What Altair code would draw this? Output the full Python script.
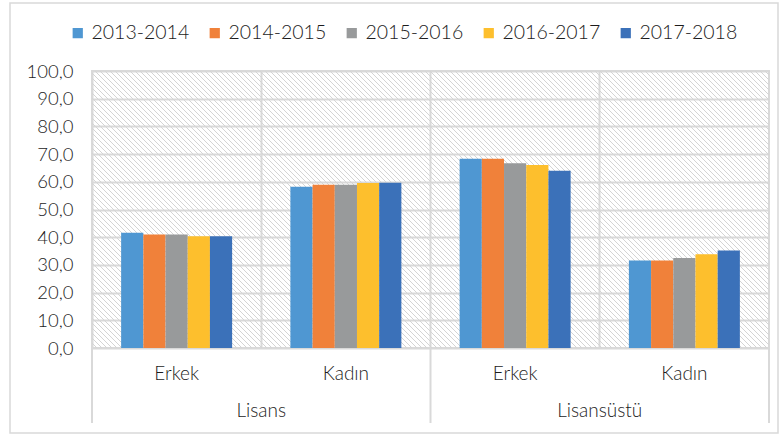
import altair as alt
import pandas as pd

# ---- data -------------------------------------------------------------
groups = ["Lisans", "Lisansüstü"]
sexes = ["Erkek", "Kadın"]
years = ["2013-2014", "2014-2015", "2015-2016", "2016-2017", "2017-2018"]
lisans_erkek = [41.6, 41.0, 41.0, 40.3, 40.3]
lisans_kadin = [58.2, 58.9, 58.9, 59.6, 59.7]
lisansustu_erkek = [68.3, 68.3, 66.7, 66.1, 64.0]
lisansustu_kadin = [31.6, 31.6, 32.5, 33.8, 35.2]
y_ticks = [0, 10, 20, 30, 40, 50, 60, 70, 80, 90, 100]
colors = ["#4f97d2", "#f0813a", "#989a9b", "#fdbf2d", "#3b71b9"]

series = {
    ("Lisans", "Erkek"): lisans_erkek,
    ("Lisans", "Kadın"): lisans_kadin,
    ("Lisansüstü", "Erkek"): lisansustu_erkek,
    ("Lisansüstü", "Kadın"): lisansustu_kadin,
}
cats = [f"{g}|{s}" for g in groups for s in sexes]
rows = []
for (g, s), vals in series.items():
    for yr, v in zip(years, vals):
        rows.append({"cat": f"{g}|{s}", "group": g, "sex": s, "year": yr, "value": v})
df = pd.DataFrame(rows)
cat_df = pd.DataFrame({"cat": cats, "sex": [c.split("|")[1] for c in cats]})
grp_df = pd.DataFrame({"cat": [f"{g}|Erkek" for g in groups], "label": groups})
sep_start = pd.DataFrame({"cat": [f"{g}|Erkek" for g in groups]})
sep_end = pd.DataFrame({"cat": [cats[-1]]})

# ---- layout -----------------------------------------------------------
W, H = 677, 277
BAND = W / 4
BARS = 111
FONT = "Lato"
WEIGHT = 300
TXT = "#1c1c1c"
GRID = "#d9d9d9"

# decorative hatch of the plot background
step = 5
hatch_df = pd.DataFrame({"x0": list(range(-H, W + step, step))})
hatch_df["x1"] = hatch_df["x0"] + H

xscale = alt.Scale(domain=cats, paddingInner=0, paddingOuter=0)

hatch = alt.Chart(hatch_df).mark_rule(
    color="#d4d4d4", strokeWidth=1, clip=True
).encode(
    x=alt.X("x0:Q", scale=alt.Scale(domain=[0, W], nice=False, zero=False), axis=None),
    x2="x1:Q",
    y=alt.value(0),
    y2=alt.value(H),
)

bars = alt.Chart(df).mark_bar().encode(
    x=alt.X(
        "cat:N", sort=cats, scale=xscale,
        axis=alt.Axis(labels=False, ticks=False, domain=False, grid=True,
                      gridColor=GRID, gridWidth=2, bandPosition=0, title=None),
    ),
    xOffset=alt.XOffset("year:N", sort=years,
                        scale=alt.Scale(domain=years, paddingInner=0, paddingOuter=0,
                                        range=[(BAND - BARS) / 2, (BAND + BARS) / 2])),
    y=alt.Y(
        "value:Q", scale=alt.Scale(domain=[0, 100], nice=False),
        axis=alt.Axis(values=y_ticks,
                      labelExpr="replace(format(datum.value, '.1f'), '.', ',')",
                      grid=True, gridColor=GRID, gridWidth=2, ticks=False,
                      domain=False, labelFontSize=18.5, labelPadding=19,
                      labelColor=TXT, labelFont=FONT, labelFontWeight=WEIGHT,
                      title=None),
    ),
    color=alt.Color(
        "year:N", sort=years, scale=alt.Scale(domain=years, range=colors),
        legend=alt.Legend(orient="none", legendX=-24, legendY=-48,
                          direction="horizontal", title=None,
                          symbolType="square", symbolSize=105,
                          symbolStrokeWidth=0, labelFontSize=19.5,
                          labelFont=FONT, labelFontWeight=WEIGHT, labelColor=TXT,
                          columnPadding=15, labelOffset=4),
    ),
)

cat_labels = alt.Chart(cat_df).mark_text(
    fontSize=19, font=FONT, fontWeight=WEIGHT, color=TXT, baseline="middle"
).encode(
    x=alt.X("cat:N", sort=cats, scale=xscale),
    y=alt.value(H + 26),
    text="sex:N",
)

grp_labels = alt.Chart(grp_df).mark_text(
    fontSize=19, font=FONT, fontWeight=WEIGHT, color=TXT, baseline="middle"
).encode(
    x=alt.X("cat:N", sort=cats, scale=xscale, bandPosition=1),
    y=alt.value(H + 63),
    text="label:N",
)

sep1 = alt.Chart(sep_start).mark_rule(color=GRID, strokeWidth=2).encode(
    x=alt.X("cat:N", sort=cats, scale=xscale, bandPosition=0),
    y=alt.value(H),
    y2=alt.value(H + 75),
)
sep2 = alt.Chart(sep_end).mark_rule(color=GRID, strokeWidth=2).encode(
    x=alt.X("cat:N", sort=cats, scale=xscale, bandPosition=1),
    y=alt.value(H),
    y2=alt.value(H + 75),
)

frame = alt.Chart(pd.DataFrame({"a": [0]})).mark_rect(
    fill="transparent", stroke=GRID, strokeWidth=1.5
).encode(
    x=alt.value(-82), x2=alt.value(W + 9),
    y=alt.value(-68), y2=alt.value(H + 85),
)

inner = alt.layer(bars, cat_labels, grp_labels, sep1, sep2, frame)

chart = alt.layer(hatch, inner).resolve_scale(x="independent").properties(
    width=W, height=H,
    autosize=alt.AutoSizeParams(type="none"),
    padding={"left": 92, "top": 71, "right": 10, "bottom": 87},
).configure_view(fill="white", stroke=GRID, strokeWidth=2)

chart.save("out.html", embed_options={"renderer": "svg", "actions": False})
